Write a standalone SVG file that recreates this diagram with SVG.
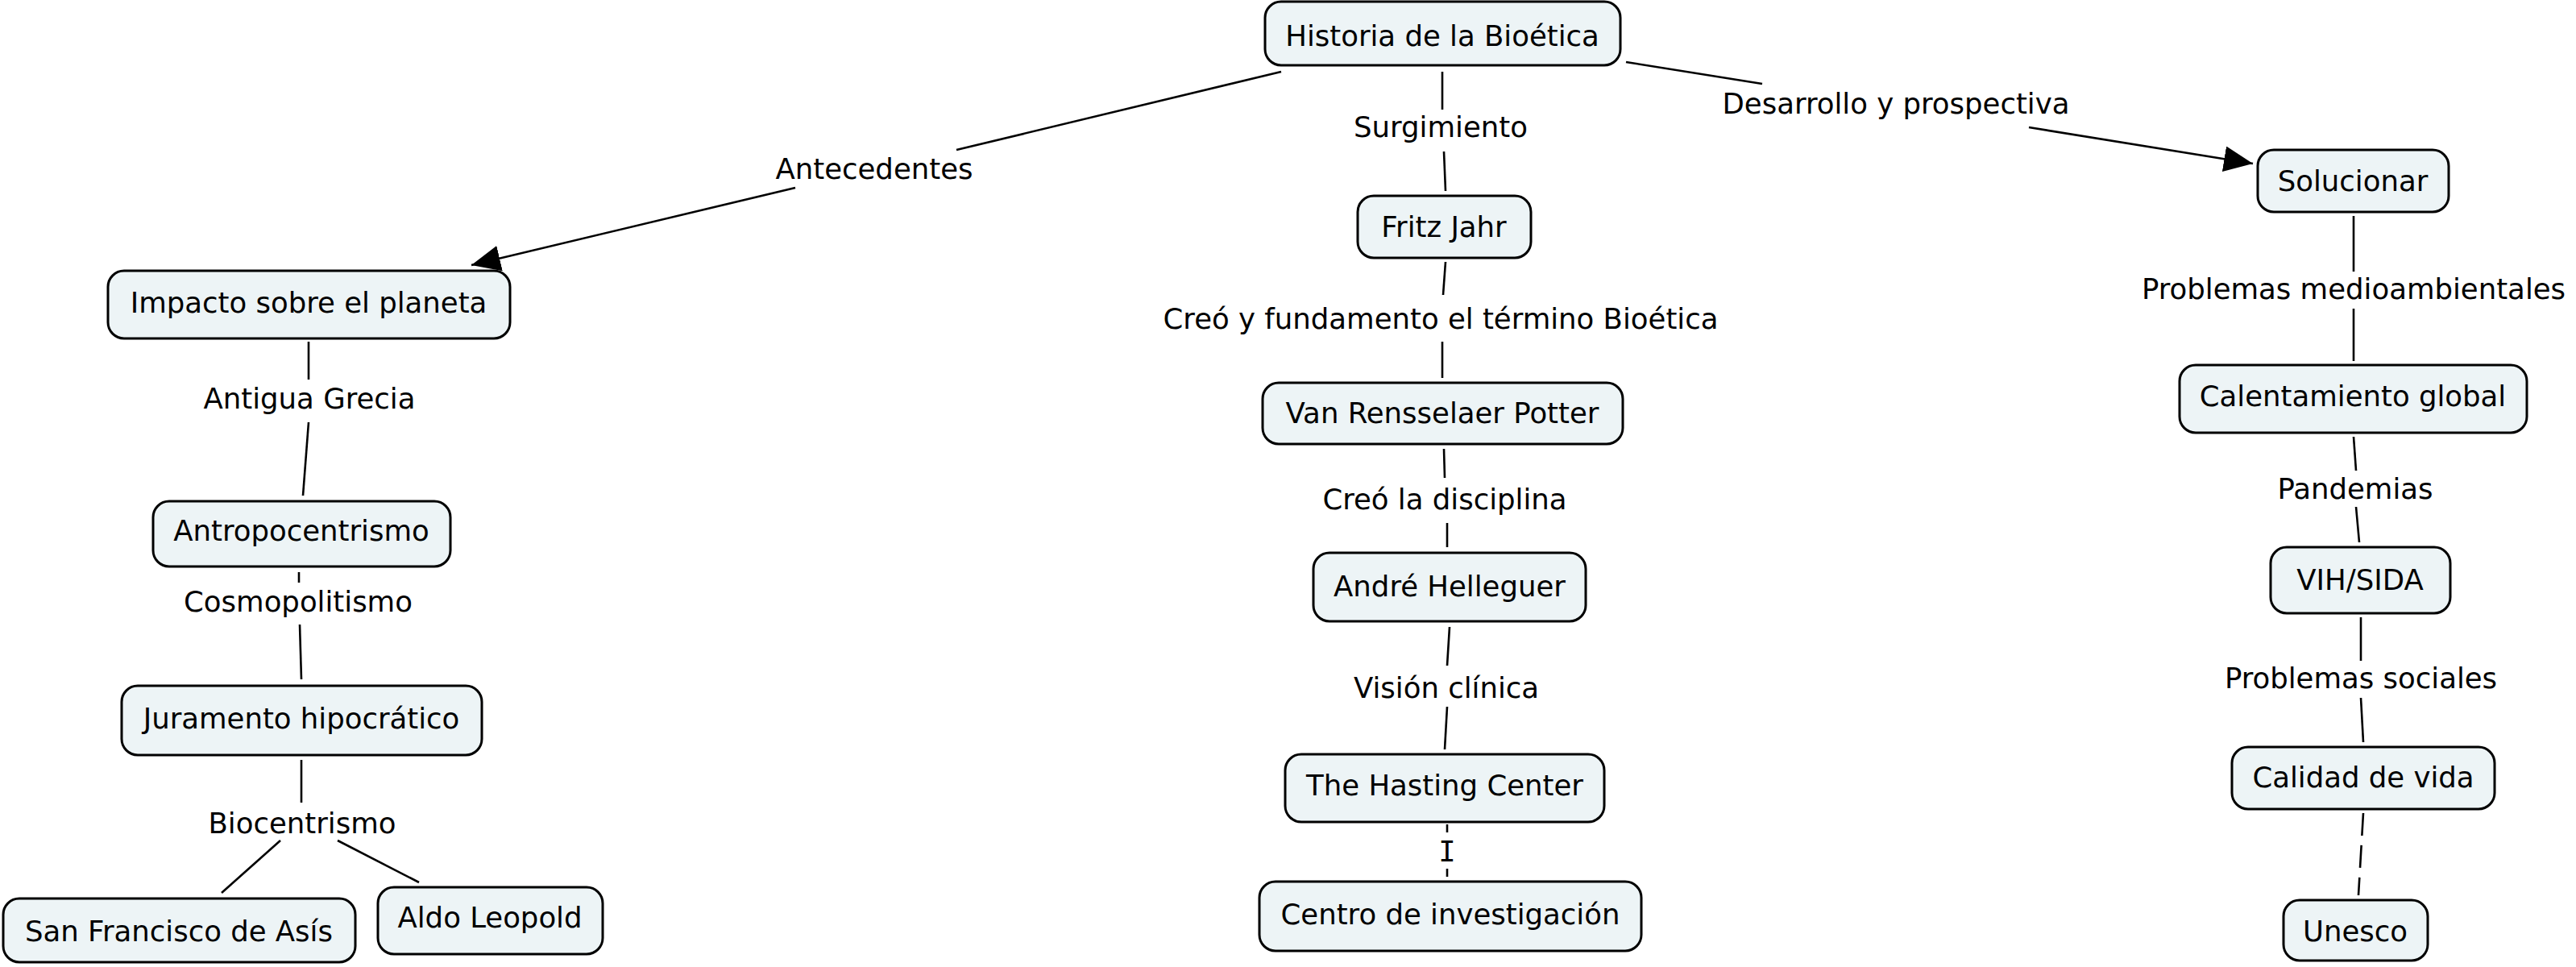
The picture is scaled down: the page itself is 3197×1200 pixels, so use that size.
<svg xmlns="http://www.w3.org/2000/svg" width="3197" height="1200" viewBox="0 0 3197 1200">
<style>
.n rect{fill:#EDF4F6;stroke:#000;stroke-width:3}
text{font-family:"DejaVu Sans","Liberation Sans",sans-serif;font-size:35.5px;fill:#000;text-anchor:middle}
.c line{stroke:#000;stroke-width:2.6;fill:none}
.c .d{stroke-dasharray:28 12}
.c .serif{font-family:"DejaVu Sans Mono","Liberation Mono",monospace}
</style>
<defs>
<marker id="ah" markerUnits="userSpaceOnUse" markerWidth="40" markerHeight="34" refX="36" refY="16" orient="auto">
<path d="M0,0 L36,16 L0,32 Z" fill="#000"/>
</marker>
</defs>
<rect width="3197" height="1200" fill="#fff"/>
<g class="c" id="connectors">
<line x1="1590" y1="89" x2="1187" y2="186"/>
<line x1="987" y1="233" x2="585" y2="329" marker-end="url(#ah)"/>
<line x1="1790" y1="89" x2="1790" y2="136"/>
<line x1="1792" y1="188" x2="1794" y2="237"/>
<line x1="1794" y1="325" x2="1791" y2="366"/>
<line x1="1790" y1="424" x2="1790" y2="469"/>
<line x1="1792" y1="557" x2="1793" y2="593"/>
<line x1="1796" y1="649" x2="1796" y2="679"/>
<line x1="1799" y1="778" x2="1796" y2="826"/>
<line x1="1796" y1="877" x2="1793" y2="930"/>
<line x1="1796" y1="1023" x2="1796" y2="1033"/>
<line x1="1796" y1="1078" x2="1796" y2="1088"/>
<line x1="2018" y1="77" x2="2187" y2="104"/>
<line x1="2518" y1="158" x2="2796" y2="203" marker-end="url(#ah)"/>
<line x1="2921" y1="268" x2="2921" y2="337"/>
<line x1="2921" y1="383" x2="2921" y2="448"/>
<line x1="2921" y1="542" x2="2924" y2="584"/>
<line x1="2924" y1="629" x2="2928" y2="673"/>
<line x1="2930" y1="766" x2="2930" y2="820"/>
<line x1="2930" y1="866" x2="2933" y2="921"/>
<line class="d" x1="2933" y1="1009" x2="2927" y2="1111"/>
<line x1="383" y1="424" x2="383" y2="471"/>
<line x1="383" y1="524" x2="376" y2="615"/>
<line x1="371" y1="710" x2="371" y2="723"/>
<line x1="372" y1="775" x2="374" y2="843"/>
<line x1="374" y1="943" x2="374" y2="996"/>
<line x1="348" y1="1043" x2="275" y2="1108"/>
<line x1="419" y1="1043" x2="520" y2="1095"/>
<text x="1085" y="222">Antecedentes</text>
<text x="1788" y="170">Surgimiento</text>
<text x="2353" y="141">Desarrollo y prospectiva</text>
<text x="1788" y="408">Creó y fundamento el término Bioética</text>
<text x="1793" y="632">Creó la disciplina</text>
<text x="1795" y="866">Visión clínica</text>
<text class="serif" x="1796" y="1069">I</text>
<text x="384" y="507">Antigua Grecia</text>
<text x="370" y="759">Cosmopolitismo</text>
<text x="375" y="1034">Biocentrismo</text>
<text x="2921" y="371">Problemas medioambientales</text>
<text x="2923" y="619">Pandemias</text>
<text x="2930" y="854">Problemas sociales</text>
</g>
<g class="n" id="historia"><rect x="1570" y="2" width="441" height="79" rx="20"/><text x="1790" y="57">Historia de la Bioética</text></g>
<g class="n" id="impacto"><rect x="134" y="336" width="499" height="84" rx="20"/><text x="383" y="388">Impacto sobre el planeta</text></g>
<g class="n" id="antropocentrismo"><rect x="190" y="622" width="369" height="81" rx="20"/><text x="374" y="671">Antropocentrismo</text></g>
<g class="n" id="juramento"><rect x="151" y="851" width="447" height="86" rx="20"/><text x="374" y="904">Juramento hipocrático</text></g>
<g class="n" id="sanfrancisco"><rect x="4" y="1115" width="437" height="79" rx="20"/><text x="222" y="1168">San Francisco de Asís</text></g>
<g class="n" id="aldo"><rect x="469" y="1101" width="279" height="83" rx="20"/><text x="608" y="1151">Aldo Leopold</text></g>
<g class="n" id="fritz"><rect x="1685" y="243" width="215" height="77" rx="20"/><text x="1792" y="294">Fritz Jahr</text></g>
<g class="n" id="potter"><rect x="1567" y="475" width="447" height="76" rx="20"/><text x="1790" y="525">Van Rensselaer Potter</text></g>
<g class="n" id="andre"><rect x="1630" y="686" width="338" height="85" rx="20"/><text x="1799" y="740">André Helleguer</text></g>
<g class="n" id="hasting"><rect x="1595" y="936" width="396" height="84" rx="20"/><text x="1793" y="987">The Hasting Center</text></g>
<g class="n" id="centro"><rect x="1563" y="1094" width="474" height="86" rx="20"/><text x="1800" y="1147">Centro de investigación</text></g>
<g class="n" id="solucionar"><rect x="2802" y="186" width="237" height="77" rx="20"/><text x="2920" y="237">Solucionar</text></g>
<g class="n" id="calentamiento"><rect x="2705" y="453" width="431" height="84" rx="20"/><text x="2920" y="504">Calentamiento global</text></g>
<g class="n" id="vih"><rect x="2818" y="679" width="223" height="82" rx="20"/><text x="2929" y="732">VIH/SIDA</text></g>
<g class="n" id="calidad"><rect x="2770" y="927" width="326" height="77" rx="20"/><text x="2933" y="977">Calidad de vida</text></g>
<g class="n" id="unesco"><rect x="2834" y="1117" width="179" height="75" rx="20"/><text x="2923" y="1168">Unesco</text></g>
</svg>
